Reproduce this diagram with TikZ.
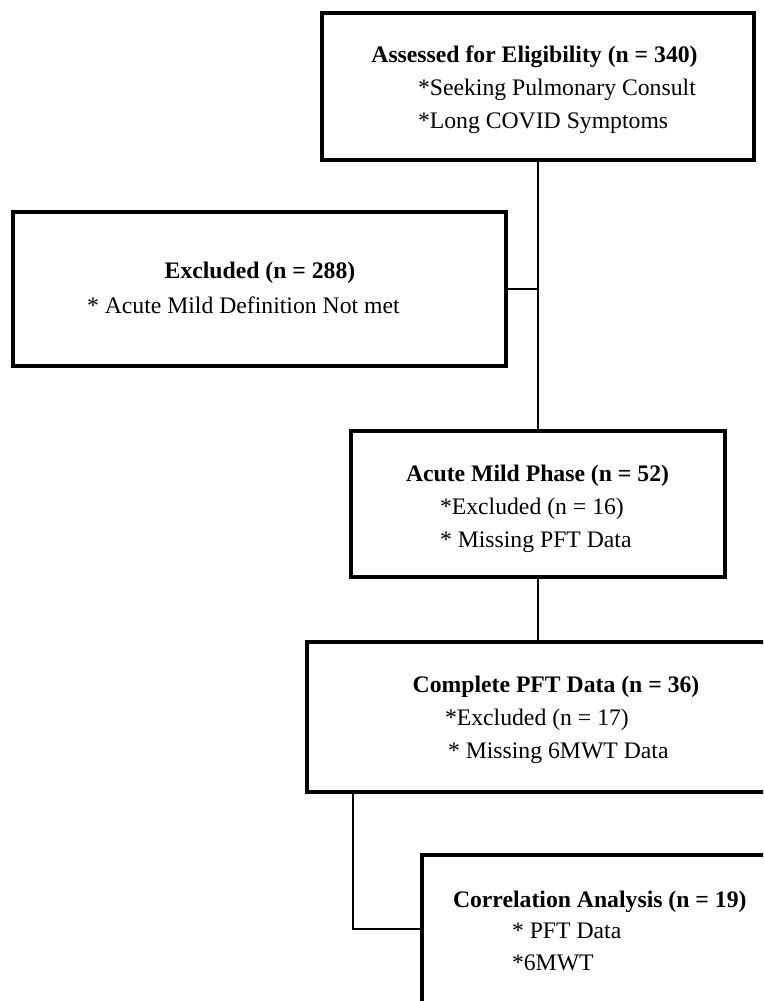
\documentclass[tikz,border=0pt]{standalone}
\usepackage{fontspec}
\setmainfont{Liberation Serif}
\begin{document}
\begin{tikzpicture}[x=1pt,y=-1pt,
  flowbox/.style={draw=black,line width=4pt,fill=white,inner sep=0pt,outer sep=0pt,rectangle},
  link/.style={draw=black,line width=1.7pt},
  txt/.style={inner sep=0pt,outer sep=0pt,font=\fontsize{23.7}{33}\selectfont},
  head/.style={txt,font=\fontsize{23.7}{33}\selectfont\bfseries,anchor=base},
  item/.style={txt,anchor=base west}]
\useasboundingbox (0,0) rectangle (763,1001);
\fill[white] (0,0) rectangle (763,1001);
\clip (0,0) rectangle (763,1001);

% boxes
\node[flowbox,minimum width=432pt,minimum height=147pt] (b1) at (538,86.5) {};
\node[flowbox,minimum width=493pt,minimum height=154pt] (b2) at (259.5,289) {};
\node[flowbox,minimum width=374pt,minimum height=146pt] (b3) at (538,504) {};
\node[flowbox,minimum width=493pt,minimum height=150pt] (b4) at (553.5,717) {};
\node[flowbox,minimum width=428pt,minimum height=148pt] (b5) at (636,929) {};

% connectors
\coordinate (j1) at (b1.south |- b2.east);
\draw[link] (b1.south) -- (b3.north);
\draw[link] (b2.east) -- (j1);
\draw[link] (b3.south) -- (b3.south |- b4.north);
\draw[link] ([xshift=46pt]b4.south west) |- (b5.west);

% texts
\node[head] (t1a) at (534.5,62) {Assessed for Eligibility (n = 340)};
\node[item] (t1b) at (418,95) {*Seeking Pulmonary Consult};
\node[item] (t1c) at (418,128) {*Long COVID Symptoms};

\node[head] (t2a) at (260,278) {Excluded (n = 288)};
\node[item] (t2b) at (87,313) {* Acute Mild Definition Not met};

\node[head] (t3a) at (537.5,481) {Acute Mild Phase (n = 52)};
\node[item] (t3b) at (440,514) {*Excluded (n = 16)};
\node[item] (t3c) at (440,547) {* Missing PFT Data};

\node[head] (t4a) at (556,692) {Complete PFT Data (n = 36)};
\node[item] (t4b) at (445,725) {*Excluded (n = 17)};
\node[item] (t4c) at (448,758) {* Missing 6MWT Data};

\node[head,anchor=base west] (t5a) at (453,907) {Correlation Analysis (n = 19)};
\node[item] (t5b) at (512,938) {* PFT Data};
\node[item] (t5c) at (512,970) {*6MWT};
\end{tikzpicture}
\end{document}
